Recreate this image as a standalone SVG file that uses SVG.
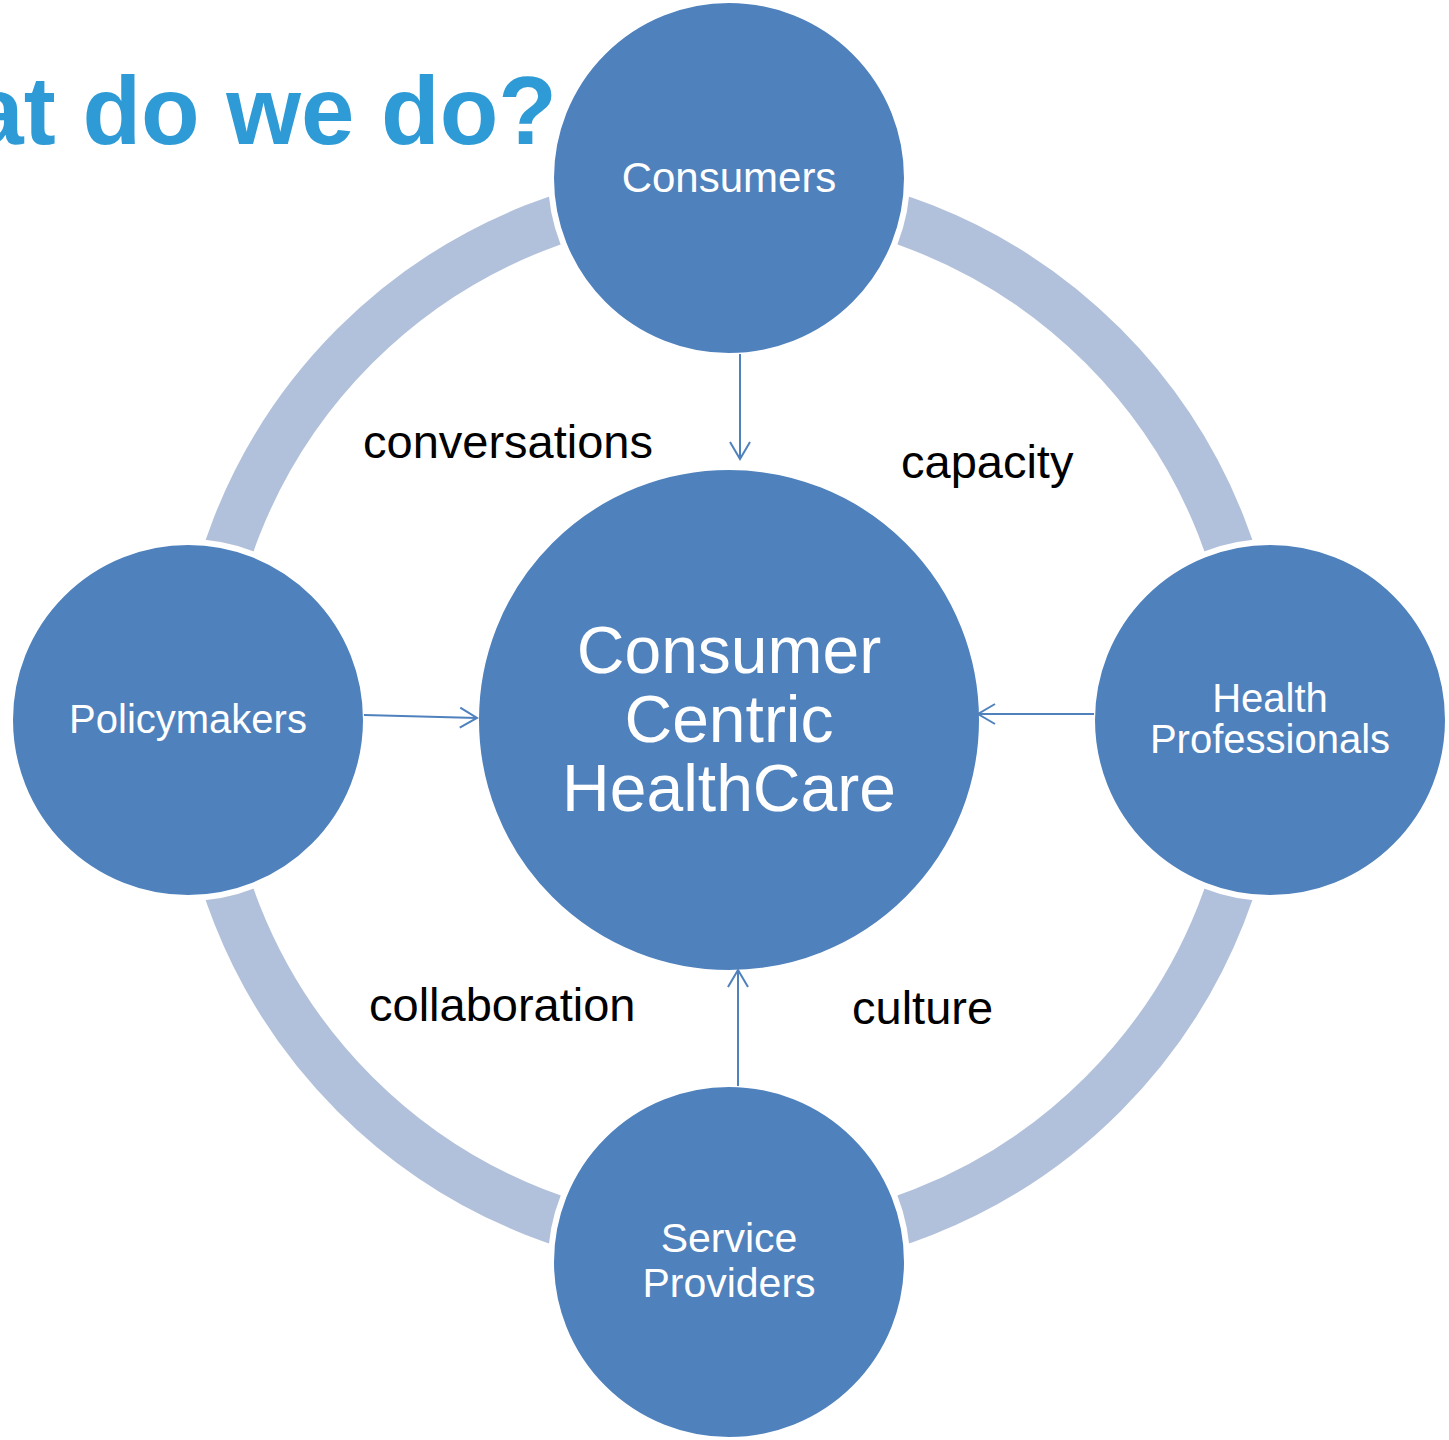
<svg xmlns="http://www.w3.org/2000/svg" width="1449" height="1440" viewBox="0 0 1449 1440">
<style>
.node{fill:#4F81BD;stroke:#FFFFFF;stroke-width:6}
.nt{fill:#FFFFFF;font-family:"Liberation Sans",Arial,sans-serif;text-anchor:middle}
.lbl{fill:#000000;font-family:"Liberation Sans",Arial,sans-serif;font-size:47px}
.conn{stroke:#4F81BD;stroke-width:2;fill:none;marker-end:url(#arr)}
</style>
<defs>
<marker id="arr" markerWidth="22" markerHeight="24" refX="18" refY="12" orient="auto" markerUnits="userSpaceOnUse">
<path d="M1,2 L18,12 L1,22" fill="none" stroke="#4F81BD" stroke-width="2"/>
</marker>
</defs>
<rect width="1449" height="1440" fill="#FFFFFF"/>
<text x="557" y="144" text-anchor="end" font-family="Liberation Sans,Arial,sans-serif" font-weight="bold" font-size="96" fill="#2E9BD6">What do we do?</text>
<circle cx="729" cy="720" r="529" fill="none" stroke="#B2C1DB" stroke-width="49"/>
<g id="center">
<circle class="node" cx="729" cy="720" r="253"/>
<text class="nt" font-size="66"><tspan x="729" y="673">Consumer</tspan><tspan x="729" y="742">Centric</tspan><tspan x="729" y="811">HealthCare</tspan></text>
</g>
<g id="consumers">
<circle class="node" cx="729" cy="178" r="178"/>
<text class="nt" font-size="42" x="729" y="192">Consumers</text>
</g>
<g id="policymakers">
<circle class="node" cx="188" cy="720" r="178"/>
<text class="nt" font-size="40" x="188" y="733">Policymakers</text>
</g>
<g id="health">
<circle class="node" cx="1270" cy="720" r="178"/>
<text class="nt" font-size="40"><tspan x="1270" y="712">Health</tspan><tspan x="1270" y="753">Professionals</tspan></text>
</g>
<g id="service">
<circle class="node" cx="729" cy="1262" r="178"/>
<text class="nt" font-size="41"><tspan x="729" y="1252">Service</tspan><tspan x="729" y="1297">Providers</tspan></text>
</g>
<g id="connectors">
<line class="conn" x1="740" y1="354" x2="740" y2="459"/>
<line class="conn" x1="364" y1="715" x2="477" y2="718"/>
<line class="conn" x1="1094" y1="714" x2="978" y2="714"/>
<line class="conn" x1="738" y1="1086" x2="738" y2="970"/>
</g>
<g id="labels">
<text class="lbl" x="363" y="458">conversations</text>
<text class="lbl" x="901" y="478">capacity</text>
<text class="lbl" x="369" y="1021">collaboration</text>
<text class="lbl" x="852" y="1024">culture</text>
</g>
</svg>
